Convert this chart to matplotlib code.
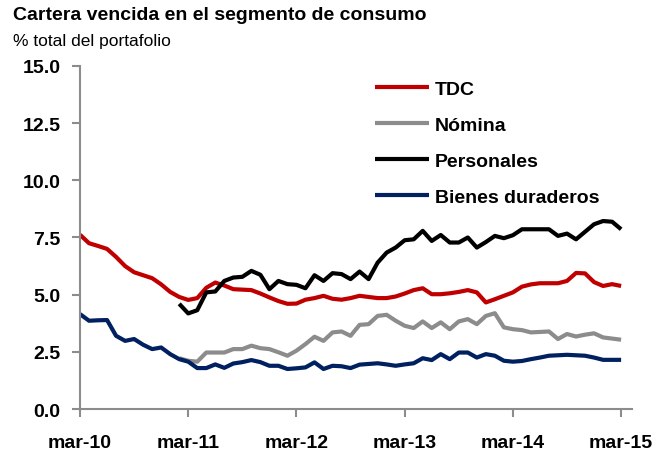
import numpy as np
import pandas as pd
import matplotlib
matplotlib.use("Agg")
import matplotlib.pyplot as plt

plt.rcParams['font.family'] = ['Liberation Sans Narrow', 'Liberation Sans', 'DejaVu Sans']

# monthly, mar-10 .. mar-15
fechas = pd.date_range("2010-03-01", "2015-03-01", freq="MS")
nan = np.nan

tdc = [7.62, 7.25, 7.13, 7.0, 6.65, 6.25, 5.98, 5.85, 5.72, 5.45,
       5.12, 4.9, 4.77, 4.85, 5.3, 5.53, 5.4, 5.24, 5.22, 5.2,
       5.05, 4.88, 4.72, 4.6, 4.61, 4.78, 4.85, 4.95, 4.82, 4.78,
       4.85, 4.95, 4.9, 4.85, 4.85, 4.92, 5.05, 5.2, 5.28, 5.02,
       5.02, 5.06, 5.12, 5.2, 5.1, 4.66, 4.8, 4.95, 5.1, 5.35,
       5.45, 5.5, 5.5, 5.5, 5.6, 5.95, 5.93, 5.55, 5.38, 5.46, 5.38]

nomina = [nan] * 11 + [
       2.22, 2.11, 2.07, 2.47, 2.47, 2.47, 2.62, 2.62, 2.77,
       2.66, 2.62, 2.48, 2.33, 2.55, 2.84, 3.16, 2.98, 3.35, 3.39,
       3.2, 3.68, 3.71, 4.07, 4.12, 3.86, 3.64, 3.54, 3.83, 3.54,
       3.79, 3.49, 3.83, 3.93, 3.71, 4.07, 4.19, 3.57, 3.49, 3.45,
       3.35, 3.37, 3.39, 3.06, 3.28, 3.17, 3.25, 3.31, 3.13, 3.08, 3.03]

personales = [nan] * 11 + [
       4.6, 4.18, 4.32, 5.1, 5.14, 5.6, 5.75, 5.78, 6.04,
       5.87, 5.24, 5.6, 5.46, 5.43, 5.28, 5.85, 5.6, 5.94, 5.9,
       5.68, 6.01, 5.68, 6.4, 6.84, 7.06, 7.38, 7.42, 7.79, 7.35,
       7.61, 7.28, 7.28, 7.5, 7.06, 7.3, 7.57, 7.47, 7.6, 7.86,
       7.86, 7.86, 7.86, 7.57, 7.67, 7.42, 7.75, 8.08, 8.22, 8.19, 7.86]

bienes = [4.15, 3.86, 3.88, 3.89, 3.2, 2.98, 3.06, 2.81, 2.62, 2.69,
       2.4, 2.18, 2.07, 1.79, 1.79, 1.95, 1.8, 1.99, 2.05, 2.14,
       2.05, 1.89, 1.89, 1.75, 1.78, 1.82, 2.04, 1.75, 1.89, 1.87,
       1.79, 1.94, 1.97, 2.0, 1.95, 1.89, 1.95, 2.0, 2.22, 2.14,
       2.4, 2.18, 2.47, 2.47, 2.25, 2.4, 2.33, 2.11, 2.07, 2.1,
       2.18, 2.25, 2.33, 2.35, 2.37, 2.35, 2.33, 2.25, 2.15, 2.15, 2.15]

series = ["TDC", "Nómina", "Personales", "Bienes duraderos"]
colores = ["#C00000", "#8C8C8C", "#000000", "#002060"]
yticks = [0.0, 2.5, 5.0, 7.5, 10.0, 12.5, 15.0]
xlabels = ["mar-10", "mar-11", "mar-12", "mar-13", "mar-14", "mar-15"]

fig = plt.figure(figsize=(6.69, 4.52), dpi=100)
ax = fig.add_axes([0.1196, 0.0929, 0.825, 0.7589])

x = np.arange(len(fechas))
for nombre, datos, c in zip(series, [tdc, nomina, personales, bienes], colores):
    ax.plot(x, datos, color=c, lw=3.0, label=nombre, solid_joinstyle='round',
            solid_capstyle='butt')

ax.set_ylim(0, 15)
ax.set_xlim(0, 61.2)
ax.set_yticks(yticks)
ax.set_yticklabels(["%.1f" % v for v in yticks], fontsize=14, fontweight='bold')
ax.set_xticks(np.arange(0, 61, 12))
ax.set_xticklabels(xlabels, fontsize=14, fontweight='bold')

for s in ["top", "right"]:
    ax.spines[s].set_visible(False)
for s in ["left", "bottom"]:
    ax.spines[s].set_color("#8C8C8C")
    ax.spines[s].set_linewidth(1.5)
ax.tick_params(axis='y', length=6, width=1.5, color="#8C8C8C", pad=8)
ax.tick_params(axis='x', length=6, width=1.5, color="#8C8C8C", pad=12)

leg = ax.legend(loc='upper left', bbox_to_anchor=(0.52, 0.982), frameon=False,
                fontsize=14, handlelength=2.8, handletextpad=0.3,
                labelspacing=0.95, borderaxespad=0)
for t in leg.get_texts():
    t.set_fontweight('bold')

fig.text(0.019, 0.985, "Cartera vencida en el segmento de consumo", fontsize=14,
         fontweight='bold', va='top', ha='left')
fig.text(0.019, 0.925, "% total del portafolio", fontsize=12.5, va='top', ha='left')

fig.savefig("out.png", dpi=100)
